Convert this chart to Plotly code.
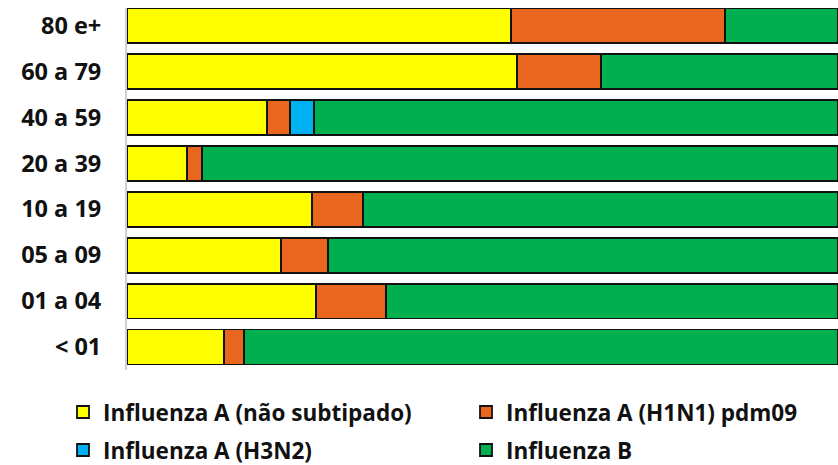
import plotly.graph_objects as go

categories = ["< 01", "01 a 04", "05 a 09", "10 a 19", "20 a 39", "40 a 59", "60 a 79", "80 e+"]
a_nao_subtipado = [13.6, 26.6, 21.7, 26.0, 8.4, 19.7, 54.9, 54.0]
a_h1n1 = [2.8, 9.8, 6.6, 7.2, 2.1, 3.2, 11.8, 30.1]
a_h3n2 = [0, 0, 0, 0, 0, 3.4, 0, 0]
influenza_b = [83.6, 63.6, 71.7, 66.8, 89.5, 73.7, 33.3, 15.9]

series = [
    ("Influenza A (não subtipado)", a_nao_subtipado, "#FFFF00", "legend"),
    ("Influenza A (H1N1) pdm09", a_h1n1, "#E8661E", "legend"),
    ("Influenza A (H3N2)", a_h3n2, "#00B0F0", "legend2"),
    ("Influenza B", influenza_b, "#00AF50", "legend2"),
]

fig = go.Figure()
for name, vals, color, lg in series:
    fig.add_trace(go.Bar(
        y=categories, x=vals, name="<b>" + name + "</b>", orientation="h",
        marker=dict(color=color, line=dict(color="#111111", width=1.8)),
        legend=lg,
    ))

legend_common = dict(
    orientation="h", xanchor="left", yanchor="middle",
    entrywidth=358, entrywidthmode="pixels",
    font=dict(family="Open Sans", size=22.5, color="#111111"),
    itemwidth=30, traceorder="normal", bgcolor="rgba(0,0,0,0)",
)

fig.update_layout(
    barmode="stack",
    bargap=0.24,
    width=838, height=465,
    margin=dict(l=127, r=0, t=8, b=94.5, autoexpand=False),
    plot_bgcolor="white", paper_bgcolor="white",
    font=dict(family="Open Sans", size=23, color="#111111"),
    showlegend=True,
    legend=dict(x=-0.09, y=-0.117, **legend_common),
    legend2=dict(x=-0.09, y=-0.222, **legend_common),
    xaxis=dict(range=[0, 100], showgrid=False, showticklabels=False, zeroline=False,
               showline=False, ticks="", automargin=False),
    yaxis=dict(showgrid=False, showline=True, linecolor="#d0d0d0", linewidth=2,
               ticks="", ticklabelstandoff=19, automargin=False,
               tickmode="array", tickvals=categories,
               ticktext=["<b>" + c + "</b>" for c in categories],
               tickfont=dict(family="Open Sans", size=23.5, color="#111111"),
               range=[-0.5, 7.38]),
)

fig.write_html(
    "out.html",
    config={"displayModeBar": False},
    post_script="document.documentElement.style.margin='0';document.body.style.margin='0';document.body.style.overflow='hidden';",
)
